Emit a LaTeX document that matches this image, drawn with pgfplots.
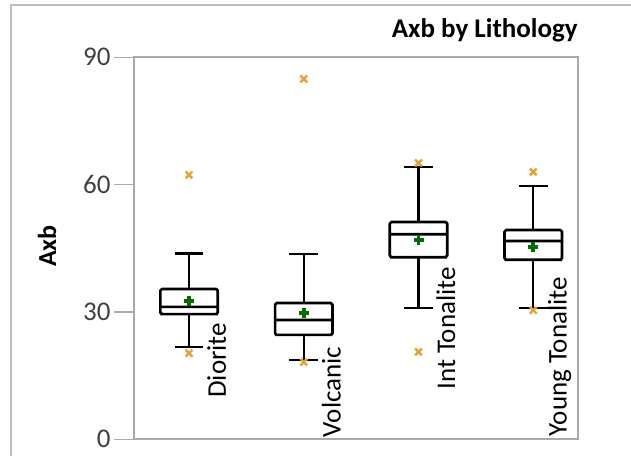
\documentclass[border=0pt]{standalone}
\usepackage{fontspec}
\setmainfont{Carlito}
\usepackage{pgfplots}
\pgfplotsset{compat=1.18}
\definecolor{framegray}{RGB}{170,170,170}
\definecolor{outergray}{RGB}{191,191,191}
\definecolor{ticktext}{RGB}{64,64,64}
\definecolor{outcol}{RGB}{232,160,48}
\definecolor{meancol}{RGB}{0,110,0}
\pgfplotsset{
 mybox/.style={draw=black, solid, line width=1.35pt, mark=none, line join=round, rounded corners=0.8pt},
 mywhisk/.style={draw=black, solid, line width=1.1pt, mark=none},
}
\begin{document}
\begin{tikzpicture}
\useasboundingbox (0,0) rectangle (315.5pt,-228pt);
\draw[outergray, line width=0.8pt] (5.5pt,-228pt) -- (5.5pt,-2.5pt) -- (315.5pt,-2.5pt);
\begin{axis}[
 at={(67pt,-219.65pt)}, anchor=south west,
 scale only axis, width=222pt, height=191pt,
 xmin=0.52, xmax=4.39, ymin=0, ymax=90,
 xtick=\empty, ytick={0,30,60,90},
 tick pos=left, tick align=outside, major tick length=10pt,
 axis line style={framegray, line width=1pt},
 tick style={framegray, line width=0.8pt},
 yticklabel style={font=\fontsize{13.5}{14}\selectfont, text=ticktext, inner sep=1.5pt},
 /pgf/number format/assume math mode=true,
 unbounded coords=jump,
 clip=false,
]
% outliers
\addplot[only marks, mark=x, mark size=2.4pt, mark options={draw=outcol, line width=1.2pt}]
  coordinates {(1,62.3) (1,20.3) (2,84.9) (2,18.2) (3,65.1) (3,20.6) (4,63.0) (4,30.4)};
% Diorite: lw 21.7, q1 29.5, med 31.2, q3 35.4, uw 43.8
\addplot[mywhisk] coordinates {
 (1,35.4)(1,43.8) (nan,nan) (0.875,43.8)(1.125,43.8) (nan,nan)
 (1,29.5)(1,21.7) (nan,nan) (0.875,21.7)(1.125,21.7)};
\addplot[mybox] coordinates {
 (0.75,29.5)(1.25,29.5)(1.25,35.4)(0.75,35.4)(0.75,29.5)(1.25,29.5) (nan,nan)
 (0.75,31.2)(1.25,31.2)};
% Volcanic: lw 18.7, q1 24.6, med 28.1, q3 32.1, uw 43.6
\addplot[mywhisk] coordinates {
 (2,32.1)(2,43.6) (nan,nan) (1.875,43.6)(2.125,43.6) (nan,nan)
 (2,24.6)(2,18.7) (nan,nan) (1.875,18.7)(2.125,18.7)};
\addplot[mybox] coordinates {
 (1.75,24.6)(2.25,24.6)(2.25,32.1)(1.75,32.1)(1.75,24.6)(2.25,24.6) (nan,nan)
 (1.75,28.1)(2.25,28.1)};
% Int Tonalite: lw 31.0, q1 42.9, med 48.3, q3 51.2, uw 64.2
\addplot[mywhisk] coordinates {
 (3,51.2)(3,64.2) (nan,nan) (2.875,64.2)(3.125,64.2) (nan,nan)
 (3,42.9)(3,31.0) (nan,nan) (2.875,31.0)(3.125,31.0)};
\addplot[mybox] coordinates {
 (2.75,42.9)(3.25,42.9)(3.25,51.2)(2.75,51.2)(2.75,42.9)(3.25,42.9) (nan,nan)
 (2.75,48.3)(3.25,48.3)};
% Young Tonalite: lw 31.0, q1 42.3, med 46.7, q3 49.3, uw 59.7
\addplot[mywhisk] coordinates {
 (4,49.3)(4,59.7) (nan,nan) (3.875,59.7)(4.125,59.7) (nan,nan)
 (4,42.3)(4,31.0) (nan,nan) (3.875,31.0)(4.125,31.0)};
\addplot[mybox] coordinates {
 (3.75,42.3)(4.25,42.3)(4.25,49.3)(3.75,49.3)(3.75,42.3)(4.25,42.3) (nan,nan)
 (3.75,46.7)(4.25,46.7)};
% means
\addplot[only marks, mark=+, mark size=2.5pt, mark options={draw=meancol, line width=1.8pt}]
  coordinates {(1,32.6) (2,29.7) (3,46.9) (4,45.3)};
\node[rotate=90, anchor=base west, inner sep=0pt, font=\fontsize{13.5}{14}\selectfont] at (axis cs:1.32,9.7) {Diorite};
\node[rotate=90, anchor=base west, inner sep=0pt, font=\fontsize{13.5}{14}\selectfont] at (axis cs:2.32,0.4) {Volcanic};
\node[rotate=90, anchor=base west, inner sep=0pt, font=\fontsize{13.5}{14}\selectfont] at (axis cs:3.32,11.6) {Int Tonalite};
\node[rotate=90, anchor=base west, inner sep=0pt, font=\fontsize{13.5}{14}\selectfont] at (axis cs:4.29,0.6) {Young Tonalite};
\end{axis}
\node[rotate=90, font=\bfseries\fontsize{13}{14}\selectfont] at (23.5pt,-123pt) {Axb};
\node[anchor=base east, inner sep=0pt, font=\bfseries\fontsize{13.5}{14}\selectfont] at (289pt,-18.5pt) {Axb by Lithology};
\end{tikzpicture}
\end{document}
